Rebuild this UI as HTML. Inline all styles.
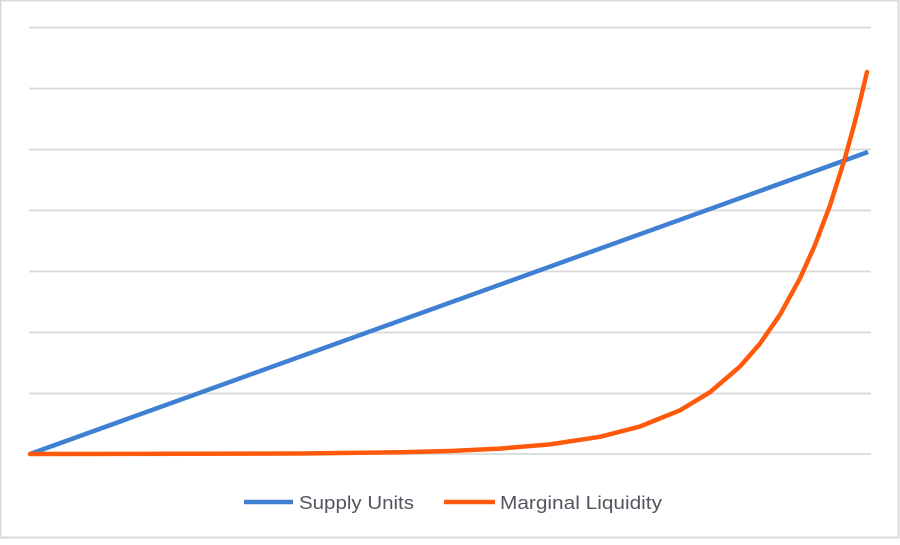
<!DOCTYPE html>
<html><head><meta charset="utf-8"><style>
html,body{margin:0;padding:0;background:#fff;}
body{width:900px;height:540px;overflow:hidden;}
</style></head><body>
<svg width="900" height="540" viewBox="0 0 900 540" xmlns="http://www.w3.org/2000/svg">
<rect x="0.5" y="0.5" width="898" height="537" fill="#fff" stroke="#d9d9d9" stroke-width="2"/>
<g stroke="#d9d9d9" stroke-width="1.8">
<line x1="29" y1="27.5" x2="871" y2="27.5"/>
<line x1="29" y1="88.5" x2="871" y2="88.5"/>
<line x1="29" y1="149.5" x2="871" y2="149.5"/>
<line x1="29" y1="210.5" x2="871" y2="210.5"/>
<line x1="29" y1="271.5" x2="871" y2="271.5"/>
<line x1="29" y1="332.5" x2="871" y2="332.5"/>
<line x1="29" y1="393.5" x2="871" y2="393.5"/>
<line x1="29" y1="454" x2="871" y2="454"/>
</g>
<polyline fill="none" stroke="#3f80d2" stroke-width="4.5" stroke-linejoin="round" points="30,454 868,152"/>
<polyline fill="none" stroke="#ff5a0c" stroke-width="4.5" stroke-linejoin="round" stroke-linecap="round" points="30,454 300,453.5 400,452.3 450,451 500,448.6 550,444.4 600,436.8 640,426.5 680,410.3 710,392.2 740,366.5 760,343.6 780,314.7 800,278.3 815,245 830,205.3 845,158 855,121.5 862,93 867,72"/>
<line x1="244" y1="502" x2="293" y2="502" stroke="#3f80d2" stroke-width="4.5"/>
<text x="299" y="509" font-family="Liberation Sans, sans-serif" font-size="18" fill="#57535f" textLength="115" lengthAdjust="spacingAndGlyphs">Supply Units</text>
<line x1="444" y1="502" x2="495" y2="502" stroke="#ff5a0c" stroke-width="4.5"/>
<text x="500" y="509" font-family="Liberation Sans, sans-serif" font-size="18" fill="#57535f" textLength="162" lengthAdjust="spacingAndGlyphs">Marginal Liquidity</text>
</svg>
</body></html>
